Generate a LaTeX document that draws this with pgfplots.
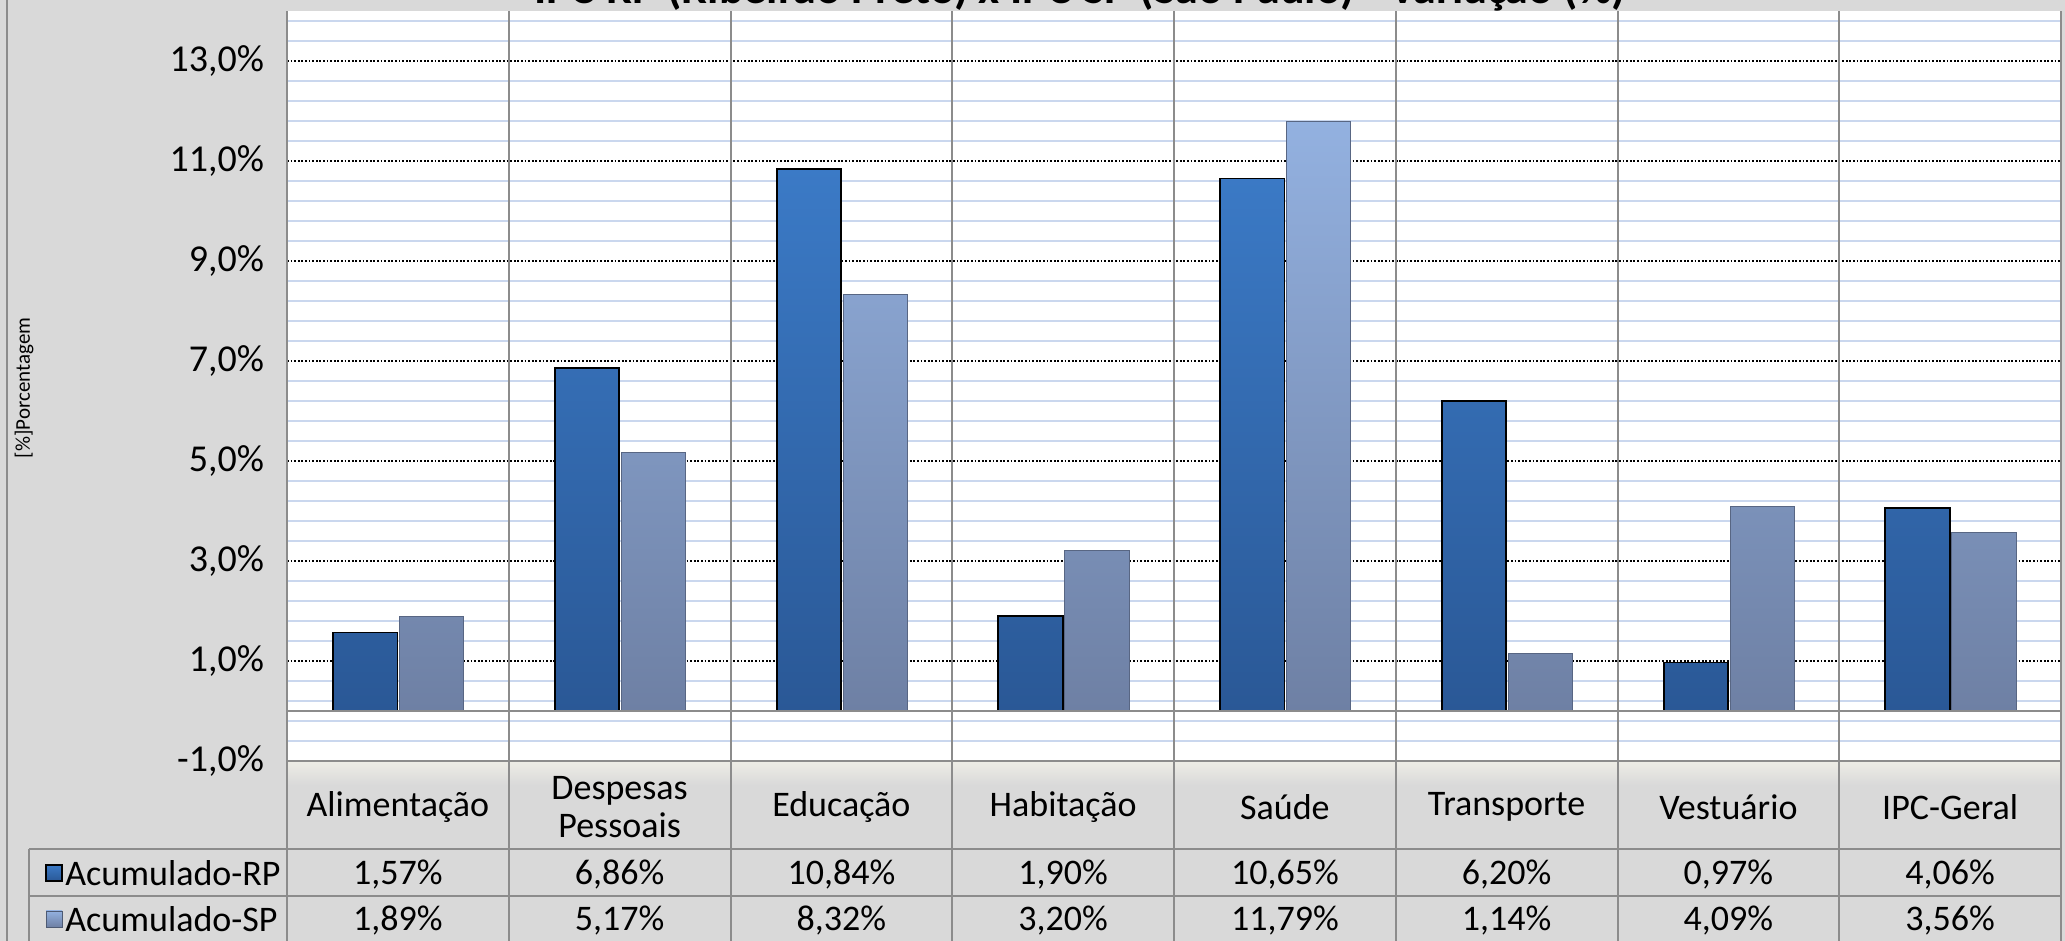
\documentclass[border=0pt]{standalone}
\usepackage{pgfplots}
\pgfplotsset{compat=1.18}
\usepackage{fontspec}
\setmainfont{Carlito}
\definecolor{bg}{HTML}{D9D9D9}
\definecolor{gridblue}{HTML}{CAD7EE}
\definecolor{linegray}{HTML}{8C8C8C}
\definecolor{rptop}{HTML}{3B7AC6}
\definecolor{rpbot}{HTML}{2A5896}
\definecolor{sptop}{HTML}{93B1E0}
\definecolor{spbot}{HTML}{6E80A4}
\definecolor{hdrtop}{HTML}{EEEDE6}
\begin{document}
\begin{tikzpicture}
\path[use as bounding box, clip] (0pt,0pt) rectangle (1032.5pt,470.5pt);
\fill[bg] (0pt,0pt) rectangle (1032.5pt,470.5pt);
\shade[top color=hdrtop, bottom color=bg] (143.5pt,78pt) rectangle (1030.5pt,90pt);
\node[font=\bfseries\fontsize{23}{26}\selectfont, anchor=base] at (540pt,468.5pt) {IPC-RP (Ribeirão Preto) x IPC-SP (São Paulo) - Variação (\%)};
\draw[linegray, line width=0.8pt] (3.5pt,0pt) -- (3.5pt,470.5pt);
\node[rotate=90, font=\fontsize{10.5}{12}\selectfont] at (12pt,276.5pt) {[\%]Porcentagem};
\begin{axis}[
  at={(143.5pt,90pt)}, anchor=south west,
  scale only axis, width=887pt, height=375pt,
  xmin=-0.5, xmax=7.5, ymin=-1, ymax=14,
  axis line style={draw=none},
  axis background/.style={fill=white},
  clip=false,
  major tick length=0pt, minor tick length=0pt,
  xtick={0,1,2,3,4,5,6,7},
  xticklabels={Alimentação,{Despesas\\Pessoais},Educação,Habitação,Saúde,Transporte,Vestuário,IPC-Geral},
  xticklabel style={align=center, anchor=center, yshift=-23pt, font=\fontsize{18}{19}\selectfont},
  ytick={-1,1,3,5,7,9,11,13},
  yticklabels={{-1,0\%},{1,0\%},{3,0\%},{5,0\%},{7,0\%},{9,0\%},{11,0\%},{13,0\%}},
  yticklabel style={font=\fontsize{19}{22}\selectfont, xshift=-8pt},
  minor ytick={-0.6,-0.2,0.2,0.6,1.4,1.8,2.2,2.6,3.4,3.8,4.2,4.6,5.4,5.8,6.2,6.6,7.4,7.8,8.2,8.6,9.4,9.8,10.2,10.6,11.4,11.8,12.2,12.6,13.4,13.8},
  ymajorgrids, yminorgrids,
  major grid style={black, line width=0.7pt, dash pattern=on 0.9pt off 0.9pt},
  minor grid style={gridblue, line width=1pt},
]
\addplot[ybar, bar width=0.29, bar shift=-0.147, draw=black, line width=0.9pt, top color=rptop, bottom color=rpbot]
  coordinates {(0,1.57) (1,6.86) (2,10.84) (3,1.90) (4,10.65) (5,6.20) (6,0.97) (7,4.06)};
\addplot[ybar, bar width=0.29, bar shift=0.153, draw=spbot!80!black, line width=0.5pt, top color=sptop, bottom color=spbot]
  coordinates {(0,1.89) (1,5.17) (2,8.32) (3,3.20) (4,11.79) (5,1.14) (6,4.09) (7,3.56)};
\draw[linegray, line width=1pt] (axis cs:-0.5,0) -- (axis cs:7.5,0);
\foreach \i/\a/\b in {0/{1,57\%}/{1,89\%},1/{6,86\%}/{5,17\%},2/{10,84\%}/{8,32\%},3/{1,90\%}/{3,20\%},4/{10,65\%}/{11,79\%},5/{6,20\%}/{1,14\%},6/{0,97\%}/{4,09\%},7/{4,06\%}/{3,56\%}}{
  \edef\temp{\noexpand\node[font=\noexpand\fontsize{18}{20}\noexpand\selectfont, yshift=-57pt] at (axis cs:\i,-1) {\unexpanded\expandafter{\a}};
    \noexpand\node[font=\noexpand\fontsize{18}{20}\noexpand\selectfont, yshift=-80pt] at (axis cs:\i,-1) {\unexpanded\expandafter{\b}};}
  \temp
}
\end{axis}
% grid / table lines
\foreach \k in {1,...,7} {
  \draw[linegray, line width=1pt] ({143.5pt+\k*110.875pt},0pt) -- ({143.5pt+\k*110.875pt},465pt);
}
\draw[linegray, line width=1pt] (143.5pt,0pt) -- (143.5pt,465pt);
\draw[linegray, line width=1pt] (1030.5pt,0pt) -- (1030.5pt,465pt);
\draw[linegray, line width=1pt] (143.5pt,90pt) -- (1030.5pt,90pt);
\draw[linegray, line width=1pt] (14.5pt,46pt) -- (1030.5pt,46pt);
\draw[linegray, line width=1pt] (14.5pt,22.5pt) -- (1030.5pt,22.5pt);
\draw[linegray, line width=1pt] (14.5pt,0pt) -- (14.5pt,46pt);
% legend
\shade[top color=rptop, bottom color=rpbot, draw=black, line width=0.6pt] (23pt,30pt) rectangle (31pt,38pt);
\shade[top color=sptop, bottom color=spbot, draw=spbot!70!black, line width=0.4pt] (23pt,7pt) rectangle (31pt,15pt);
\node[anchor=west, font=\fontsize{18}{20}\selectfont, inner sep=0pt] at (32.5pt,34pt) {Acumulado-RP};
\node[anchor=west, font=\fontsize{18}{20}\selectfont, inner sep=0pt] at (32.5pt,11pt) {Acumulado-SP};
\end{tikzpicture}
\end{document}
